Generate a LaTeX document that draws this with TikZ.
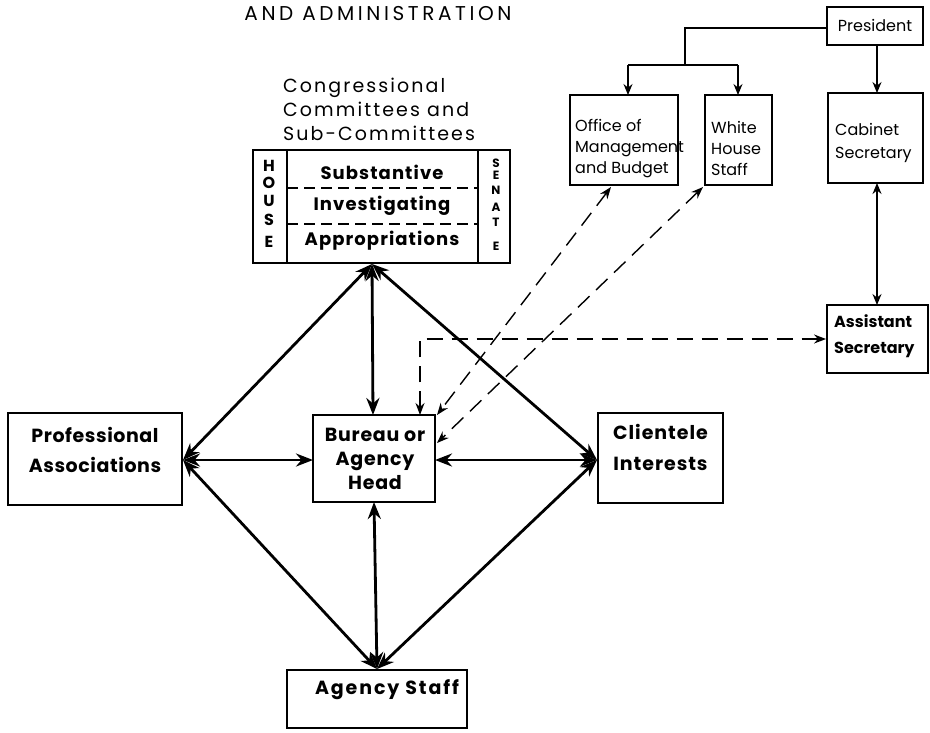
\documentclass[tikz,border=0pt]{standalone}
\usepackage{fontspec}
\setmainfont{Poppins}
\usetikzlibrary{arrows.meta}
\newcommand{\lsp}[1]{\addfontfeatures{LetterSpace=#1}}
\tikzset{
  mainbox/.style={draw, line width=2.6pt, inner sep=0pt},
  smallbox/.style={draw, line width=1.4pt, inner sep=0pt},
  bigtxt/.style={inner sep=0pt, align=center, font=\bfseries\fontsize{19}{30}\selectfont\lsp{4}},
  smalltxt/.style={inner sep=0pt, align=left, font=\fontsize{16}{21}\selectfont},
  rowtxt/.style={inner sep=0pt, font=\bfseries\fontsize{18}{20}\selectfont\lsp{6}},
  bigcon/.style={line width=2.8pt, {Stealth[length=17pt,width=13pt]}-{Stealth[length=17pt,width=13pt]}},
  thincon/.style={line width=1.3pt},
  thinarr/.style={line width=1.3pt, -{Stealth[length=11pt,width=9pt]}},
  thinboth/.style={line width=1.4pt, {Stealth[length=11pt,width=9pt]}-{Stealth[length=11pt,width=9pt]}},
  dsh/.style={line width=1.4pt, dash pattern=on 16pt off 9pt, {Stealth[length=12pt,width=9pt]}-{Stealth[length=12pt,width=9pt]}},
}
\begin{document}
\begin{tikzpicture}[x=1pt,y=-1pt]
\useasboundingbox (0,0) rectangle (930,732);
% title
\node[inner sep=0pt, font=\fontsize{20}{22}\selectfont\lsp{18}] (title) at (378,14) {AND ADMINISTRATION};
% congress
\node[inner sep=0pt, align=left, anchor=west, font=\fontsize{19}{24}\selectfont\lsp{11}] (congt) at (283,109) {Congressional\\Committees and\\Sub-Committees};
\node[mainbox, minimum width=257pt, minimum height=113pt] (cong) at (381.5,206.5) {};
\draw[line width=1.8pt] (287,150) -- (287,263) (478,150) -- (478,263);
\draw[line width=1.4pt, dash pattern=on 11pt off 6pt] (287,188) -- (478,188) (287,224) -- (478,224);
\node[rowtxt] (subs) at (382,172) {Substantive};
\node[rowtxt] (inv) at (382,206) {Investigating};
\node[rowtxt] (appr) at (382,241) {Appropriations};
\foreach \l/\yy [count=\i] in {H/166,O/183,U/201,S/220,E/242}
  \node[inner sep=0pt, font=\bfseries\fontsize{16}{16}\selectfont] (house\i) at (269,\yy) {\l};
\foreach \l/\yy [count=\i] in {S/163,E/175,N/190,A/207,T/222,E/246}
  \node[inner sep=0pt, font=\bfseries\fontsize{12}{12}\selectfont] (senate\i) at (496,\yy) {\l};
% main boxes
\node[mainbox, minimum width=174pt, minimum height=92pt] (prof) at (95,459) {};
\node[bigtxt, font=\bfseries\fontsize{19}{30}\selectfont\lsp{3}] (proft) at (95,450) {Professional\\Associations};
\node[mainbox, minimum width=122pt, minimum height=87pt] (bur) at (374,458.5) {};
\node[bigtxt, font=\bfseries\fontsize{19}{24}\selectfont\lsp{4}] (burt) at (375,459) {Bureau or\\Agency\\Head};
\node[mainbox, minimum width=125pt, minimum height=90pt] (cli) at (660.5,458) {};
\node[bigtxt, font=\bfseries\fontsize{19}{31}\selectfont\lsp{5}] (clit) at (660.5,447) {Clientele\\Interests};
\node[mainbox, minimum width=180pt, minimum height=58pt] (staff) at (377,699) {};
\node[bigtxt, font=\bfseries\fontsize{19}{22}\selectfont\lsp{10}] (stafft) at (387,690) {Agency Staff};
% top right boxes
\node[smallbox, minimum width=96pt, minimum height=38pt] (pres) at (875,26) {};
\node[smalltxt] (prest) at (875,25) {President};
\node[smallbox, minimum width=108pt, minimum height=90pt] (omb) at (624,140) {};
\node[smalltxt, anchor=west, font=\fontsize{16}{21}\selectfont] (ombt) at (575,149) {Office of\\Management\\and Budget};
\node[smallbox, minimum width=67pt, minimum height=90pt] (whs) at (738.5,140) {};
\node[smalltxt, anchor=west] (whst) at (711,148) {White\\House\\Staff};
\node[smallbox, minimum width=95pt, minimum height=90pt] (cab) at (875.5,138) {};
\node[smalltxt, anchor=west, font=\fontsize{16}{23}\selectfont] (cabt) at (835,143) {Cabinet\\Secretary};
\node[mainbox, line width=1.9pt, minimum width=101pt, minimum height=68pt] (asst) at (877.5,339) {};
\node[smalltxt, anchor=west, font=\bfseries\fontsize{16}{26}\selectfont] (asstt) at (834,336) {Assistant\\Secretary};
% president tree
\coordinate (split) at (685,65);
\draw[thincon] (pres.west |- 0,28) -| (split);
\draw[thincon] (628,65) -- (738,65);
\draw[thinarr] (628,65) -- (628,95);
\draw[thinarr] (738,65) -- (738,95);
\draw[thinarr] (877,45) -- (877,93);
\draw[thinboth] (877,183) -- (877,305);
% main connectors
\coordinate (cb) at (372,264);
\coordinate (pr) at (183,460);
\coordinate (cl) at (597,460);
\coordinate (st) at (377,669);
\draw[bigcon] (cb) -- (pr);
\draw[bigcon] (cb) -- (cl);
\draw[bigcon] (cb) -- (373,415);
\draw[bigcon] (pr) -- (313,460);
\draw[bigcon] (435,460) -- (cl);
\draw[bigcon] (374,502) -- (st);
\draw[bigcon] (pr) -- (st);
\draw[bigcon] (cl) -- (st);
% dashed connectors
\draw[dsh] (611,187) -- (437,415);
\draw[dsh] (703,187) -- (437,443);
\draw[dsh] (420,415) |- (asst.west);
\end{tikzpicture}
\end{document}
